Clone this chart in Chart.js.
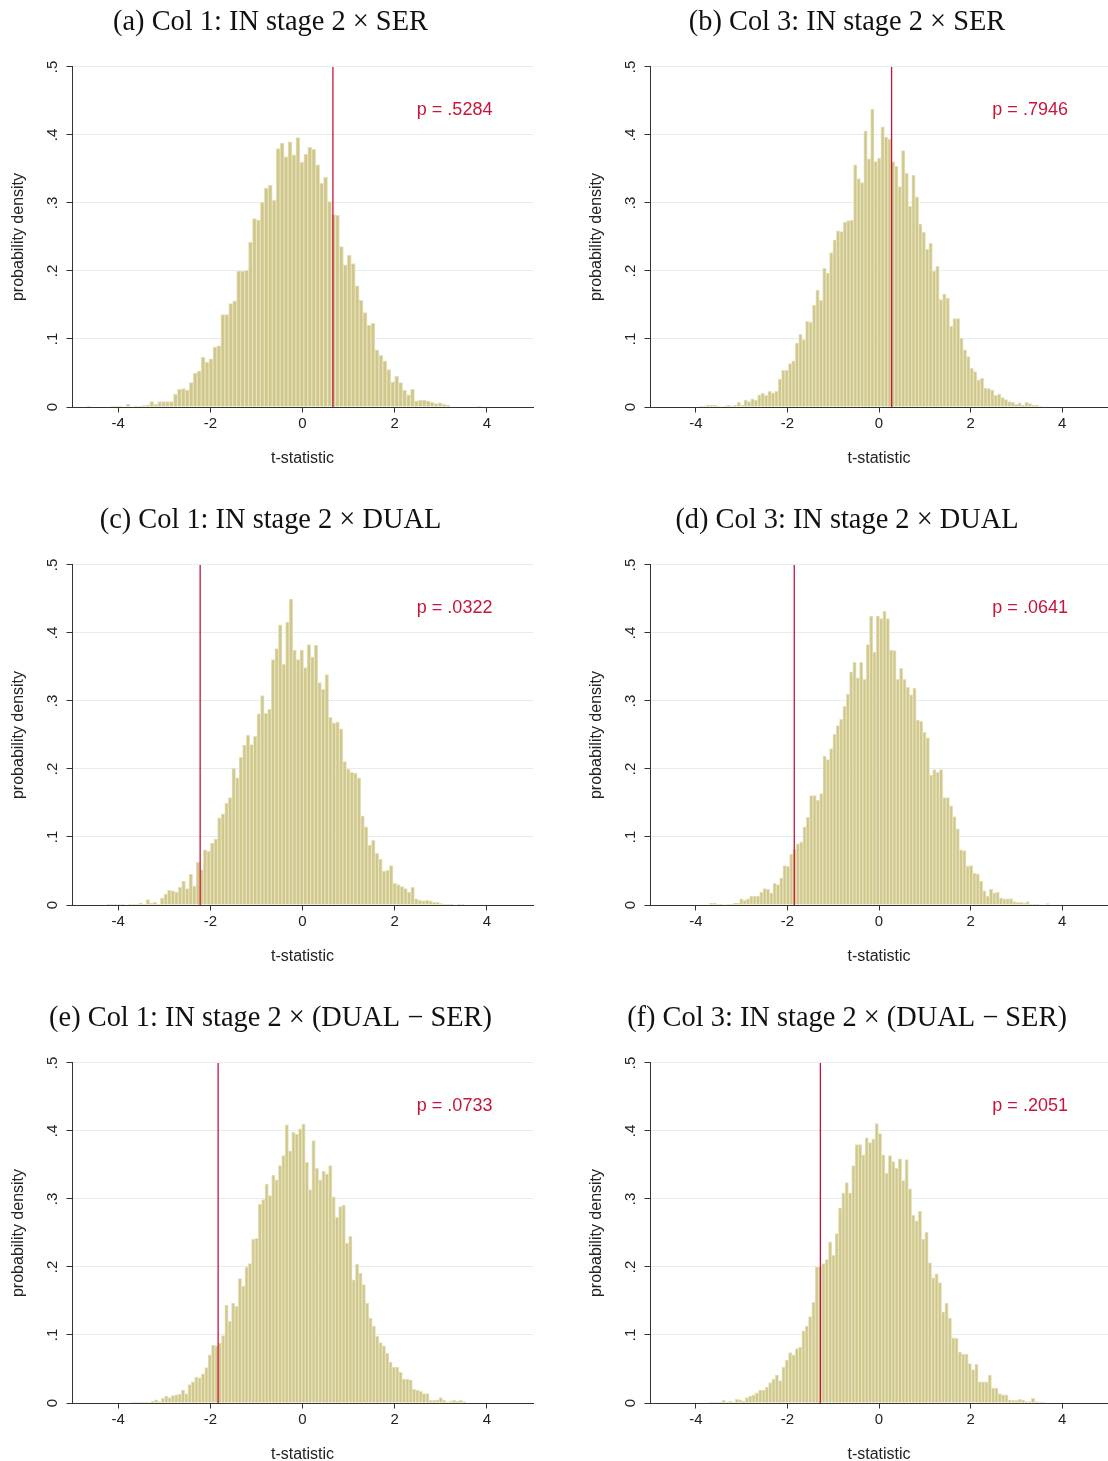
<!DOCTYPE html>
<html>
<head>
<meta charset="utf-8">
<script src="https://cdn.jsdelivr.net/npm/chart.js@4.4.1/dist/chart.umd.min.js"></script>
<style>
  html, body { margin: 0; padding: 0; background: #fff; overflow: hidden; width: 1108px; height: 1461px; }
  canvas { position: absolute; }
</style>
</head>
<body>
<canvas id="hist0" width="541" height="470" style="left:0px;top:0px"></canvas>
<canvas id="hist1" width="541" height="470" style="left:578px;top:0px"></canvas>
<canvas id="hist2" width="541" height="470" style="left:0px;top:498px"></canvas>
<canvas id="hist3" width="541" height="470" style="left:578px;top:498px"></canvas>
<canvas id="hist4" width="541" height="470" style="left:0px;top:996px"></canvas>
<canvas id="hist5" width="541" height="470" style="left:578px;top:996px"></canvas>
<script>
const xTicks = [-4, -2, 0, 2, 4];
const yTicks = [0, 0.1, 0.2, 0.3, 0.4, 0.5];

const panelTitles = [
  "(a) Col 1: IN stage 2 \u00d7 SER",
  "(b) Col 3: IN stage 2 \u00d7 SER",
  "(c) Col 1: IN stage 2 \u00d7 DUAL",
  "(d) Col 3: IN stage 2 \u00d7 DUAL",
  "(e) Col 1: IN stage 2 \u00d7 (DUAL \u2212 SER)",
  "(f) Col 3: IN stage 2 \u00d7 (DUAL \u2212 SER)",
];
const pValues = [".5284", ".7946", ".0322", ".0641", ".0733", ".2051"];
// observed t-statistic (red line)
const tObserved = [0.66, 0.275, -2.22, -1.85, -1.83, -1.28];
// histogram range (first bin start, last bin end)
const binLo = [-4.684, -3.922, -4.248, -3.696, -3.718, -3.718];
const binHi = [3.885, 3.558, 3.515, 3.718, 3.544, 3.617];

const densA = [
  0.0015, 0, 0, 0, 0, 0, 0.0015, 0.0015, 0.0015, 0,
  0.004, 0, 0.0015, 0.0015, 0.002, 0.003, 0.008, 0.004, 0.008, 0.008,
  0.008, 0.008, 0.019, 0.026, 0.027, 0.025, 0.036, 0.05, 0.053, 0.073,
  0.066, 0.071, 0.088, 0.09, 0.136, 0.136, 0.152, 0.156, 0.2, 0.2,
  0.201, 0.242, 0.277, 0.275, 0.301, 0.322, 0.326, 0.304, 0.38, 0.388,
  0.368, 0.39, 0.371, 0.396, 0.36, 0.372, 0.382, 0.379, 0.356, 0.329,
  0.338, 0.302, 0.283, 0.282, 0.236, 0.209, 0.223, 0.211, 0.178, 0.157,
  0.139, 0.12, 0.123, 0.084, 0.076, 0.068, 0.055, 0.037, 0.045, 0.036,
  0.025, 0.018, 0.026, 0.009, 0.01, 0.01, 0.009, 0.007, 0.005, 0.006,
  0.004, 0.0025, 0, 0, 0, 0, 0, 0, 0, 0.0015,
];
const densB = [
  0.0015, 0.001, 0.0025, 0.003, 0.0025, 0.0015, 0, 0.0015, 0.0025, 0.0015,
  0.0025, 0.007, 0.003, 0.01, 0.008, 0.012, 0.01, 0.018, 0.02, 0.017,
  0.023, 0.021, 0.023, 0.041, 0.054, 0.054, 0.064, 0.068, 0.094, 0.107,
  0.099, 0.126, 0.125, 0.15, 0.172, 0.157, 0.204, 0.197, 0.227, 0.246,
  0.259, 0.258, 0.272, 0.274, 0.275, 0.356, 0.336, 0.33, 0.406, 0.365,
  0.438, 0.361, 0.366, 0.412, 0.397, 0.394, 0.361, 0.354, 0.324, 0.377,
  0.344, 0.295, 0.341, 0.309, 0.269, 0.257, 0.232, 0.241, 0.2, 0.207,
  0.158, 0.166, 0.16, 0.119, 0.13, 0.13, 0.101, 0.084, 0.074, 0.057,
  0.052, 0.04, 0.042, 0.028, 0.027, 0.025, 0.017, 0.019, 0.014, 0.011,
  0.008, 0.007, 0.004, 0.006, 0.0025, 0.007, 0.005, 0.003, 0.0025, 0.0015,
];
const densC = [
  0.0015, 0.0005, 0.001, 0.0015, 0.0015, 0, 0.0015, 0.0015, 0.0015, 0.003,
  0.0005, 0.008, 0.003, 0.004, 0.0005, 0.01, 0.016, 0.022, 0.021, 0.019,
  0.026, 0.035, 0.024, 0.045, 0.028, 0.063, 0.052, 0.081, 0.079, 0.091,
  0.097, 0.128, 0.134, 0.15, 0.158, 0.201, 0.187, 0.217, 0.235, 0.25,
  0.236, 0.248, 0.281, 0.308, 0.282, 0.288, 0.361, 0.377, 0.412, 0.354,
  0.416, 0.45, 0.375, 0.361, 0.375, 0.349, 0.383, 0.365, 0.382, 0.327,
  0.317, 0.339, 0.276, 0.268, 0.269, 0.259, 0.211, 0.2, 0.195, 0.194,
  0.187, 0.131, 0.115, 0.088, 0.095, 0.076, 0.067, 0.05, 0.051, 0.058,
  0.032, 0.03, 0.027, 0.024, 0.019, 0.026, 0.009, 0.007, 0.006, 0.007,
  0.006, 0.004, 0.004, 0.002, 0.0005, 0.001, 0.0005, 0, 0.0015, 0.001,
];
const densD = [
  0.0025, 0.0025, 0.0005, 0.0015, 0, 0.0015, 0.0005, 0.003, 0.003, 0.009,
  0.007, 0.009, 0.013, 0.013, 0.013, 0.019, 0.024, 0.023, 0.018, 0.032,
  0.03, 0.04, 0.058, 0.057, 0.075, 0.082, 0.09, 0.093, 0.115, 0.129,
  0.161, 0.161, 0.154, 0.164, 0.219, 0.214, 0.23, 0.251, 0.264, 0.273,
  0.292, 0.31, 0.343, 0.357, 0.334, 0.357, 0.332, 0.383, 0.425, 0.372,
  0.425, 0.421, 0.432, 0.421, 0.375, 0.374, 0.332, 0.348, 0.332, 0.32,
  0.309, 0.319, 0.272, 0.27, 0.254, 0.246, 0.191, 0.199, 0.195, 0.199,
  0.158, 0.158, 0.146, 0.13, 0.112, 0.081, 0.08, 0.057, 0.058, 0.047,
  0.046, 0.035, 0.021, 0.013, 0.023, 0.018, 0.019, 0.01, 0.009, 0.009,
  0.009, 0.005, 0.004, 0.004, 0.0025, 0.005, 0.0015, 0.0015, 0.0005, 0,
  0, 0.002,
];
const densE = [
  0.0015, 0.0015, 0.0015, 0.0005, 0.0015, 0.0015, 0.003, 0.0045, 0.002, 0.007,
  0.01, 0.008, 0.011, 0.012, 0.013, 0.019, 0.014, 0.027, 0.031, 0.038,
  0.037, 0.043, 0.052, 0.071, 0.085, 0.084, 0.088, 0.099, 0.144, 0.12,
  0.147, 0.142, 0.183, 0.172, 0.2, 0.205, 0.241, 0.242, 0.292, 0.299,
  0.322, 0.305, 0.335, 0.328, 0.349, 0.364, 0.409, 0.371, 0.398, 0.395,
  0.403, 0.41, 0.354, 0.314, 0.386, 0.345, 0.328, 0.341, 0.337, 0.349,
  0.303, 0.273, 0.289, 0.291, 0.235, 0.245, 0.181, 0.204, 0.191, 0.174,
  0.147, 0.125, 0.113, 0.098, 0.089, 0.084, 0.073, 0.06, 0.053, 0.053,
  0.045, 0.035, 0.035, 0.034, 0.02, 0.019, 0.017, 0.014, 0.014, 0.004,
  0.004, 0.0045, 0.008, 0.004, 0.0005, 0.003, 0.004, 0.003, 0.004, 0.002,
];
const densF = [
  0.0015, 0.0005, 0.0015, 0.0015, 0.004, 0.0015, 0.003, 0.0005, 0.0055, 0.0045,
  0.003, 0.008, 0.01, 0.012, 0.015, 0.019, 0.019, 0.023, 0.03, 0.035,
  0.041, 0.033, 0.053, 0.063, 0.074, 0.071, 0.08, 0.082, 0.106, 0.113,
  0.127, 0.148, 0.2, 0.2, 0.205, 0.211, 0.237, 0.217, 0.249, 0.287,
  0.309, 0.324, 0.309, 0.349, 0.38, 0.38, 0.365, 0.39, 0.383, 0.388,
  0.411, 0.396, 0.365, 0.338, 0.364, 0.355, 0.345, 0.359, 0.327, 0.358,
  0.315, 0.276, 0.268, 0.282, 0.241, 0.251, 0.206, 0.184, 0.19, 0.177,
  0.134, 0.147, 0.125, 0.096, 0.095, 0.075, 0.072, 0.072, 0.058, 0.049,
  0.057, 0.031, 0.031, 0.031, 0.041, 0.022, 0.022, 0.014, 0.012, 0.012,
  0.0045, 0.004, 0.004, 0.0055, 0.0045, 0.002, 0.002, 0.007, 0.002, 0.0015,
  0.0015,
];
const densities = [densA, densB, densC, densD, densE, densF];

const BAR_FILL = "#cfc78b";
const BAR_EDGE = "#e6e1bb";
const RED = "#c8143a";
const AXIS = "#333333";
const SANS = "'Liberation Sans', Arial, sans-serif";

// p-value text inside the plot region
const pLabelPlugin = {
  id: "pLabel",
  afterDatasetsDraw(chart, args, opts) {
    const { ctx, scales } = chart;
    ctx.save();
    ctx.font = "18px " + SANS;
    ctx.fillStyle = RED;
    ctx.textAlign = "center";
    ctx.textBaseline = "middle";
    ctx.fillText(opts.text, scales.x.getPixelForValue(3.3), scales.y.getPixelForValue(0.437));
    ctx.restore();
  },
};

function histPoints(dens, lo, hi) {
  const w = (hi - lo) / dens.length;
  return dens.map((d, i) => ({ x: lo + (i + 0.5) * w, y: d }));
}

function makeHist(i) {
  const rightPad = i % 2 === 0 ? 8 : 11;
  const config = {
    type: "bar",
    data: {
      datasets: [
        {
          type: "line",
          data: [
            { x: tObserved[i], y: yTicks[0] },
            { x: tObserved[i], y: yTicks[yTicks.length - 1] },
          ],
          borderColor: RED,
          borderWidth: 1.3,
          pointRadius: 0,
          fill: false,
          order: 0,
        },
        {
          data: histPoints(densities[i], binLo[i], binHi[i]),
          backgroundColor: BAR_FILL,
          borderColor: BAR_EDGE,
          borderWidth: 1,
          barPercentage: 1,
          categoryPercentage: 1,
          order: 1,
        },
      ],
    },
    options: {
      responsive: false,
      animation: false,
      events: [],
      layout: { padding: { left: 8, right: rightPad, top: 0, bottom: 0 } },
      plugins: {
        legend: { display: false },
        tooltip: { enabled: false },
        title: {
          display: true,
          text: panelTitles[i],
          color: "#111",
          font: { family: "'Liberation Serif', 'Times New Roman', serif", size: 28.4, weight: "normal", lineHeight: 1.2 },
          padding: { top: 6, bottom: 26.9 },
        },
        pLabel: { text: "p = " + pValues[i] },
      },
      scales: {
        x: {
          type: "linear",
          min: -5,
          max: 5,
          offset: false,
          afterBuildTicks: (axis) => {
            axis.ticks = xTicks.map((v) => ({ value: v }));
          },
          afterFit: (scale) => {
            scale.height = 63;
          },
          grid: { drawOnChartArea: false, offset: false, tickLength: 5.5, tickColor: AXIS, tickWidth: 1 },
          border: { display: true, color: AXIS, width: 1 },
          ticks: { autoSkip: false, maxRotation: 0, padding: 2, color: "#222", font: { family: SANS, size: 15 } },
          title: {
            display: true,
            text: "t-statistic",
            color: "#222",
            font: { family: SANS, size: 16 },
            padding: { top: 0, bottom: 1.4 },
          },
        },
        y: {
          min: 0,
          max: 0.5,
          afterBuildTicks: (axis) => {
            axis.ticks = yTicks.map((v) => ({ value: v }));
          },
          afterFit: (scale) => {
            scale.width = 64;
          },
          grid: { color: "#e4edef", lineWidth: 1, tickLength: 5.5, tickColor: AXIS, tickWidth: 1 },
          border: { display: true, color: AXIS, width: 1 },
          ticks: {
            autoSkip: false,
            minRotation: 90,
            maxRotation: 90,
            crossAlign: "center",
            padding: 7,
            color: "#222",
            font: { family: SANS, size: 15 },
            callback: (v) => (v === 0 ? "0" : String(v).replace(/^0/, "")),
          },
          title: {
            display: true,
            text: "probability density",
            color: "#222",
            font: { family: SANS, size: 16 },
            padding: { top: 1.4, bottom: 0 },
          },
        },
      },
    },
    plugins: [pLabelPlugin],
  };
  return new Chart(document.getElementById("hist" + i), config);
}

for (let i = 0; i < panelTitles.length; i++) {
  makeHist(i);
}
</script>
</body>
</html>
